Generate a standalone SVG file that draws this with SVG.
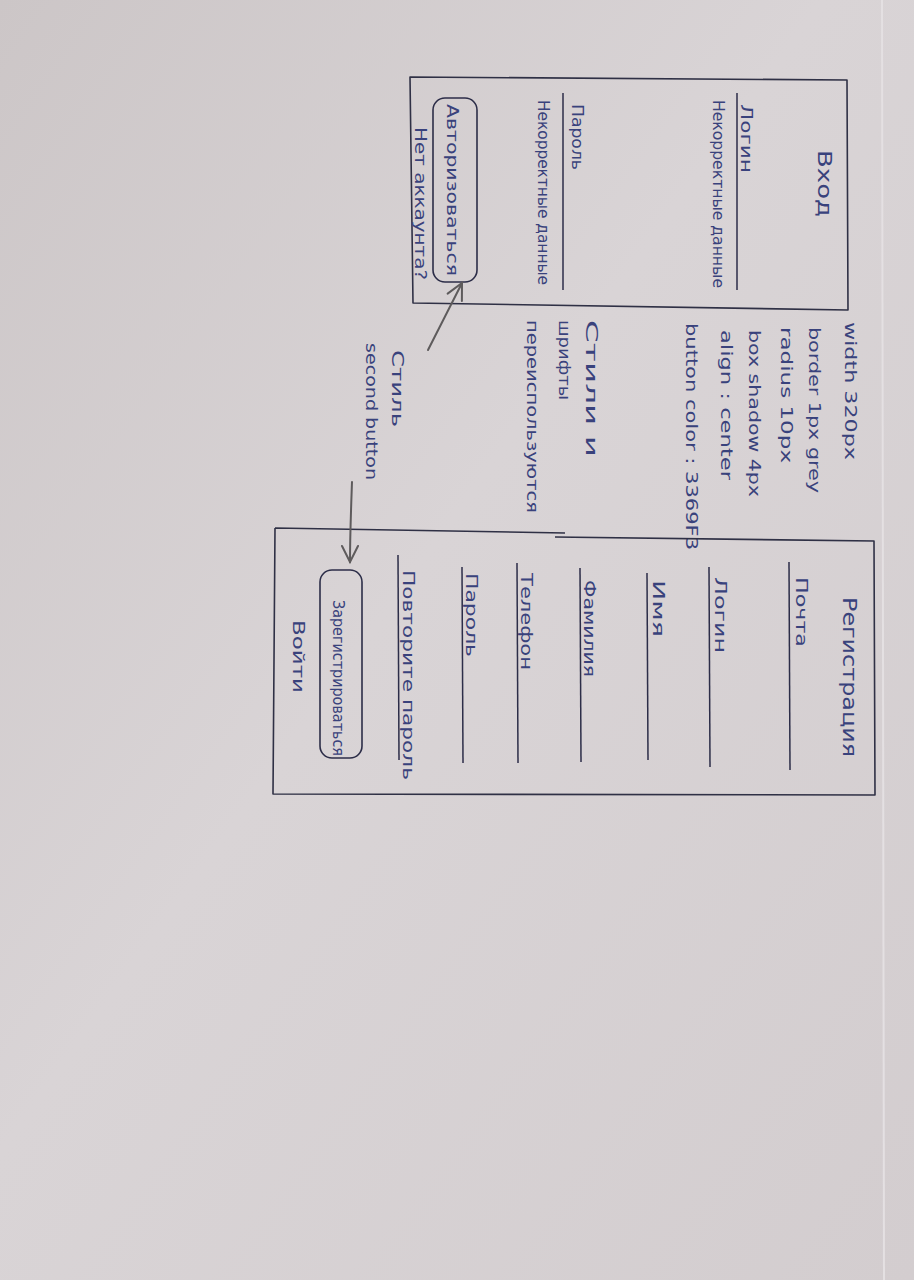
<svg xmlns="http://www.w3.org/2000/svg" width="914" height="1280" viewBox="0 0 914 1280">
  <defs>
    <linearGradient id="paper" x1="0" y1="0" x2="1" y2="1">
      <stop offset="0" stop-color="#ccc6c7"/>
      <stop offset="0.45" stop-color="#d9d4d6"/>
      <stop offset="1" stop-color="#d3cdcf"/>
    </linearGradient>
    <marker id="head" viewBox="0 0 20 20" refX="18" refY="10" markerWidth="20" markerHeight="20" markerUnits="userSpaceOnUse" orient="auto">
      <path d="M2,2 L18,10 L2,18" fill="none" stroke="#5e5b5c" stroke-width="2" stroke-linecap="round"/>
    </marker>
    <style>
      .frame { fill: none; stroke: #2f3045; stroke-width: 1.6; stroke-linejoin: round; }
      .field { fill: none; stroke: #2c2d48; stroke-width: 1.5; }
      .btn { fill: none; stroke: #2c2d48; stroke-width: 1.6; }
      .ink { fill: #39427c; font-family: "DejaVu Sans", "Liberation Sans", sans-serif; font-size: 16px; }
      .title { font-size: 19px; }
      .arrow { fill: none; stroke: #5e5b5c; stroke-width: 2; stroke-linecap: round; }
    </style>
  </defs>

  <!-- paper -->
  <rect x="0" y="0" width="914" height="1280" fill="url(#paper)"/>
  <line x1="882" y1="0" x2="884" y2="1280" stroke="#e4e0e2" stroke-width="2"/>

  <!-- Login screen -->
  <g id="login-screen">
    <path class="frame" d="M410,77 L847,80 L848,310 L413,303 Z"/>
    <text class="ink title" transform="translate(818,150) rotate(90)" textLength="67" lengthAdjust="spacingAndGlyphs">Вход</text>

    <text class="ink" transform="translate(741,104) rotate(90)" textLength="69" lengthAdjust="spacingAndGlyphs">Логин</text>
    <line class="field" x1="737" y1="93" x2="737" y2="290"/>
    <text class="ink" transform="translate(713,100) rotate(90)" textLength="188" lengthAdjust="spacingAndGlyphs">Некорректные данные</text>

    <text class="ink" transform="translate(572,104) rotate(90)" textLength="66" lengthAdjust="spacingAndGlyphs">Пароль</text>
    <line class="field" x1="563" y1="93" x2="563" y2="290"/>
    <text class="ink" transform="translate(538,100) rotate(90)" textLength="185" lengthAdjust="spacingAndGlyphs">Некорректные данные</text>

    <rect class="btn" x="433" y="98" width="44" height="184" rx="12"/>
    <text class="ink" transform="translate(447,104) rotate(90)" textLength="172" lengthAdjust="spacingAndGlyphs">Авторизоваться</text>
    <text class="ink" transform="translate(415,127) rotate(90)" textLength="153" lengthAdjust="spacingAndGlyphs">Нет аккаунта?</text>
  </g>

  <!-- Style notes -->
  <g id="style-notes">
    <text class="ink" transform="translate(845,322) rotate(90)" textLength="138" lengthAdjust="spacingAndGlyphs">width 320px</text>
    <text class="ink" transform="translate(809,327) rotate(90)" textLength="166" lengthAdjust="spacingAndGlyphs">border 1px grey</text>
    <text class="ink" transform="translate(781,327) rotate(90)" textLength="136" lengthAdjust="spacingAndGlyphs">radius 10px</text>
    <text class="ink" transform="translate(749,330) rotate(90)" textLength="167" lengthAdjust="spacingAndGlyphs">box shadow 4px</text>
    <text class="ink" transform="translate(721,330) rotate(90)" textLength="150" lengthAdjust="spacingAndGlyphs">align : center</text>
    <text class="ink" transform="translate(686,323) rotate(90)" textLength="227" lengthAdjust="spacingAndGlyphs">button color : 3369F3</text>

    <text class="ink" transform="translate(586,320) rotate(90)" textLength="137" lengthAdjust="spacingAndGlyphs">Стили  и</text>
    <text class="ink" transform="translate(559,320) rotate(90)" textLength="80" lengthAdjust="spacingAndGlyphs">шрифты</text>
    <text class="ink" transform="translate(527,320) rotate(90)" textLength="193" lengthAdjust="spacingAndGlyphs">переиспользуются</text>

    <text class="ink" transform="translate(392,350) rotate(90)" textLength="77" lengthAdjust="spacingAndGlyphs">Стиль</text>
    <text class="ink" transform="translate(366,343) rotate(90)" textLength="137" lengthAdjust="spacingAndGlyphs">second button</text>
  </g>

  <!-- Registration screen -->
  <g id="register-screen">
    <path class="frame" d="M275,528 L565,533 M555,537 L874,541 L875,795 L273,794 L275,528"/>
    <text class="ink title" transform="translate(843,597) rotate(90)" textLength="160" lengthAdjust="spacingAndGlyphs">Регистрация</text>

    <text class="ink" transform="translate(796,577) rotate(90)" textLength="70" lengthAdjust="spacingAndGlyphs">Почта</text>
    <line class="field" x1="789" y1="562" x2="790" y2="770"/>

    <text class="ink" transform="translate(715,577) rotate(90)" textLength="76" lengthAdjust="spacingAndGlyphs">Логин</text>
    <line class="field" x1="709" y1="567" x2="710" y2="767"/>

    <text class="ink" transform="translate(653,580) rotate(90)" textLength="57" lengthAdjust="spacingAndGlyphs">Имя</text>
    <line class="field" x1="647" y1="573" x2="648" y2="760"/>

    <text class="ink" transform="translate(584,580) rotate(90)" textLength="97" lengthAdjust="spacingAndGlyphs">Фамилия</text>
    <line class="field" x1="580" y1="568" x2="581" y2="762"/>

    <text class="ink" transform="translate(521,573) rotate(90)" textLength="97" lengthAdjust="spacingAndGlyphs">Телефон</text>
    <line class="field" x1="517" y1="563" x2="518" y2="763"/>

    <text class="ink" transform="translate(466,573) rotate(90)" textLength="84" lengthAdjust="spacingAndGlyphs">Пароль</text>
    <line class="field" x1="462" y1="567" x2="463" y2="763"/>

    <text class="ink" transform="translate(403,570) rotate(90)" textLength="210" lengthAdjust="spacingAndGlyphs">Повторите пароль</text>
    <line class="field" x1="398" y1="555" x2="399" y2="760"/>

    <rect class="btn" x="320" y="570" width="42" height="188" rx="12"/>
    <text class="ink" transform="translate(333,600) rotate(90)" textLength="156" lengthAdjust="spacingAndGlyphs">Зарегистрироваться</text>
    <text class="ink" transform="translate(293,620) rotate(90)" textLength="73" lengthAdjust="spacingAndGlyphs">Войти</text>
  </g>

  <!-- Connectors -->
  <g id="connectors">
    <path class="arrow" d="M428,350 L462,283" marker-end="url(#head)"/>
    <path class="arrow" d="M352,482 C351,510 350,535 350,562" marker-end="url(#head)"/>
  </g>
</svg>
